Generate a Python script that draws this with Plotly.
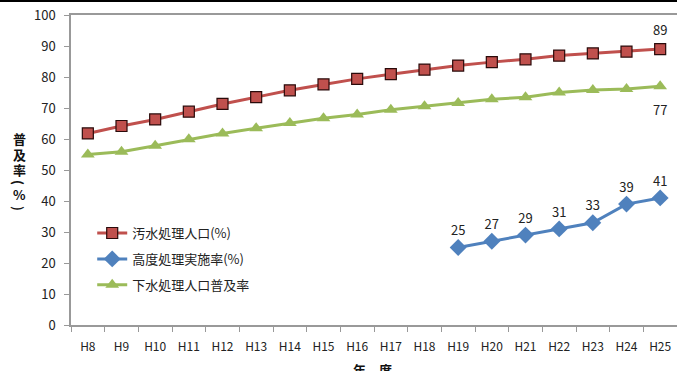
import plotly.graph_objects as go

years = ["H8", "H9", "H10", "H11", "H12", "H13", "H14", "H15", "H16", "H17",
         "H18", "H19", "H20", "H21", "H22", "H23", "H24", "H25"]
sewage = [61.8, 64.2, 66.3, 68.8, 71.3, 73.5, 75.7, 77.6, 79.4, 80.9,
          82.4, 83.7, 84.8, 85.7, 86.9, 87.6, 88.2, 89]
adv_years = ["H19", "H20", "H21", "H22", "H23", "H24", "H25"]
advanced = [25, 27, 29, 31, 33, 39, 41]
sewer = [55.0, 55.9, 57.8, 59.9, 61.8, 63.5, 65.2, 66.7, 67.9, 69.4,
         70.6, 71.6, 72.8, 73.5, 75.0, 75.8, 76.1, 77]

names = ["汚水処理人口(%)", "高度処理実施率(%)", "下水処理人口普及率"]
ytitle_chars = ["普", "及", "率", "(", "%", ")"]

FONT = "Noto Sans CJK JP, Noto Sans, sans-serif"
RED, BLUE, GREEN = "#C0504D", "#4F81BD", "#9BBB59"

# figure is drawn 2px below a black top rule (see post_script)
TOP = 2
fig = go.Figure()
fig.add_trace(go.Scatter(
    x=years, y=sewage, name=names[0], legendgroup="a",
    mode="lines+markers",
    line=dict(color=RED, width=3),
    marker=dict(symbol="square", size=11, color=RED, line=dict(color="#2a0a0a", width=1.2)),
))
fig.add_trace(go.Scatter(
    x=adv_years, y=advanced, name=names[1], legendgroup="b",
    mode="lines+markers+text",
    text=[str(v) for v in advanced], textposition="top center",
    textfont=dict(size=13, color="#222"),
    line=dict(color=BLUE, width=3),
    marker=dict(symbol="diamond", size=13, color=BLUE),
))
fig.add_trace(go.Scatter(
    x=years, y=sewer, name=names[2], legendgroup="c",
    mode="lines+markers",
    line=dict(color=GREEN, width=3),
    marker=dict(symbol="triangle-up", size=12, color=GREEN),
))

annotations = [
    dict(text=f"{sewage[-1]:g}", x=years[-1], y=sewage[-1], xref="x", yref="y",
         yshift=20, showarrow=False, font=dict(size=13, color="#222")),
    dict(text=f"{sewer[-1]:g}", x=years[-1], y=sewer[-1], xref="x", yref="y",
         yshift=-23, showarrow=False, font=dict(size=13, color="#222")),
    dict(text="<b>年　度</b>", xref="paper", yref="paper",
         x=(372 - 71) / 606, y=(325 - 369) / 310, xanchor="center", yanchor="middle",
         showarrow=False, font=dict(size=13, color="#111")),
]
ypix = [138, 154, 169, 182, 195, 208]
for ch, yp in zip(ytitle_chars, ypix):
    annotations.append(dict(text=f"<b>{ch}</b>", xref="paper", yref="paper",
                            x=-52 / 606, y=(325 - yp) / 310, xanchor="center",
                            yanchor="middle", showarrow=False,
                            textangle=90 if ch in "()" else 0,
                            font=dict(size=13, color="#111")))

fig.update_layout(
    width=677, height=371 - TOP,
    margin=dict(l=71, r=0, t=15 - TOP, b=46),
    paper_bgcolor="white", plot_bgcolor="white",
    font=dict(family=FONT, size=12, color="#222"),
    showlegend=True,
    legend=dict(x=0.035, y=0.345, xanchor="left", yanchor="top",
                bgcolor="rgba(0,0,0,0)", font=dict(size=13, color="#222"),
                tracegroupgap=6, itemwidth=30),
    xaxis=dict(type="category", categoryorder="array", categoryarray=years,
               range=[-0.5, 17.5], showgrid=False, showline=True,
               linecolor="#999", linewidth=1.5, ticks="outside", ticklen=5,
               tickcolor="#999", tickson="boundaries", tickfont=dict(size=12),
               ticklabelstandoff=10, mirror=True, automargin=False),
    yaxis=dict(range=[0, 100], dtick=10, showgrid=False, showline=True,
               linecolor="#999", linewidth=1.5, ticks="outside", ticklen=5,
               tickcolor="#999", tickfont=dict(size=13), zeroline=False,
               ticklabelstandoff=6, mirror=False, automargin=False),
    annotations=annotations,
)

fig.write_html(
    "out.html", config={"displayModeBar": False},
    post_script=(
        "document.body.style.margin='0';document.body.style.overflow='hidden';"
        "var g=document.querySelector('.plotly-graph-div');"
        "g.style.borderTop='2px solid #000';"
    ),
)
